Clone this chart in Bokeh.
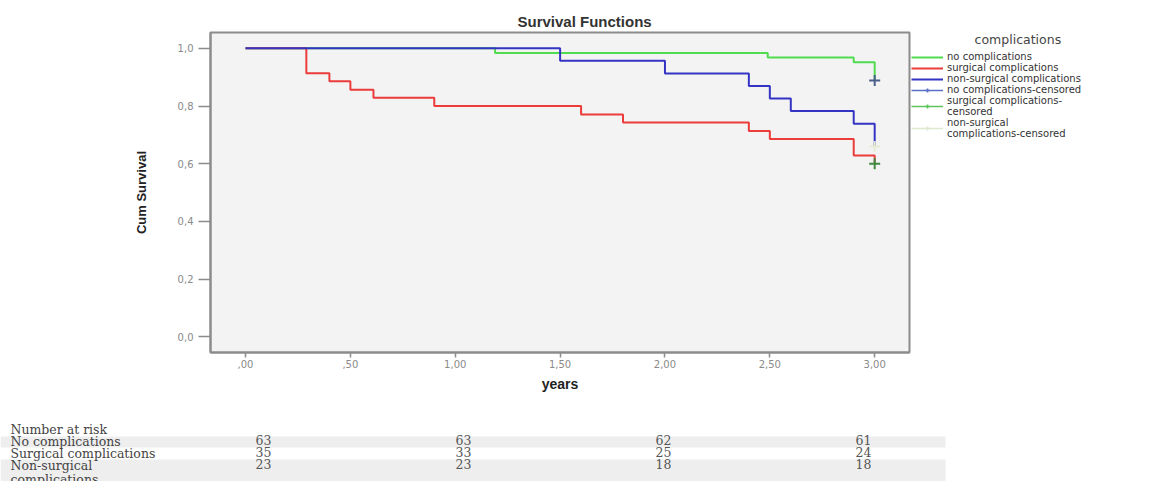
from bokeh.plotting import figure
from bokeh.models import Range1d, Legend, LegendItem, ColumnDataSource
from bokeh.layouts import row
from bokeh.embed import file_html
from bokeh.resources import INLINE
from bokeh.core.properties import value

# ---------------- data ----------------
legend_heading = "complications"
group_names = ["no complications", "surgical complications", "non-surgical complications"]
censor_names = ["no complications-censored", "surgical complications-\ncensored",
                "non-surgical\ncomplications-censored"]

no_comp_years = [0.0, 1.19, 2.49, 2.90, 3.0]
no_comp_surv = [1.0, 0.984, 0.968, 0.952, 0.889]

surg_years = [0.0, 0.29, 0.40, 0.50, 0.61, 0.90, 1.60, 1.80, 2.40, 2.50, 2.90, 3.0]
surg_surv = [1.0, 0.914, 0.886, 0.857, 0.829, 0.800, 0.771, 0.743, 0.714, 0.686, 0.629, 0.600]

nonsurg_years = [0.0, 1.50, 2.00, 2.40, 2.50, 2.60, 2.90, 3.0]
nonsurg_surv = [1.0, 0.957, 0.913, 0.870, 0.826, 0.783, 0.739, 0.660]

censor_years = [3.0, 3.0, 3.0]
censor_surv = [0.889, 0.600, 0.660]

x_ticks = [0.0, 0.5, 1.0, 1.5, 2.0, 2.5, 3.0]
x_tick_labels = [",00", ",50", "1,00", "1,50", "2,00", "2,50", "3,00"]
y_ticks = [0.0, 0.2, 0.4, 0.6, 0.8, 1.0]
y_tick_labels = ["0,0", "0,2", "0,4", "0,6", "0,8", "1,0"]

risk_years = [0, 1, 2, 3]
risk_no_comp = [63, 63, 62, 61]
risk_surg = [35, 33, 25, 24]
risk_nonsurg = [23, 23, 18, 18]
risk_header = "Number at risk"
risk_row_labels = ["No complications", "Surgical complications", "Non-surgical\ncomplications"]

# ---------------- styles ----------------
line_colors = ["#4fdc4f", "#ec3b3b", "#3434c4"]
censor_plot_colors = ["#4a5f8a", "#3f8a3f", "#e6ecd4"]
censor_legend_colors = ["#5a6fc8", "#5cc65c", "#dfe9d0"]

W = 1168
PW = 911
H = 418
p = figure(width=PW, height=H,
           x_range=Range1d(-0.167, 3.166), y_range=Range1d(-0.054, 1.055),
           output_backend="svg", toolbar_location=None,
           min_border_left=210, min_border_right=PW - 909,
           min_border_top=32, min_border_bottom=66)
p.background_fill_color = "#f3f3f3"
p.border_fill_color = "white"
p.outline_line_color = "#8c8c8c"
p.outline_line_width = 2
p.xgrid.visible = False
p.ygrid.visible = False

p.title.text = "Survival Functions"
p.title.text_font = "Liberation Sans"
p.title.text_font_size = "15px"
p.title.text_font_style = "bold"
p.title.text_color = "#333333"
p.title.align = "left"
p.title.offset = 307
p.title.standoff = 6

for ax in (p.xaxis[0], p.yaxis[0]):
    ax.axis_line_color = "#8c8c8c"
    ax.axis_line_width = 2
    ax.major_tick_line_color = "#8c8c8c"
    ax.major_tick_line_width = 1.5
    ax.major_tick_in = 0
    ax.minor_tick_line_color = None
    ax.major_label_text_font = "DejaVu Sans"
    ax.major_label_text_font_size = "10px"
    ax.major_label_text_color = "#8a8a8a"
    ax.axis_label_text_font = "Liberation Sans"
    ax.axis_label_text_font_style = "bold"
    ax.axis_label_text_color = "#222222"

p.xaxis.ticker = x_ticks
p.xaxis.major_label_overrides = dict(zip(x_ticks, x_tick_labels))
p.xaxis.major_tick_out = 5
p.xaxis.major_label_standoff = 2
p.xaxis.axis_label = "years"
p.xaxis.axis_label_text_font_size = "14px"
p.xaxis.axis_label_standoff = 5

p.yaxis.ticker = y_ticks
p.yaxis.major_label_overrides = dict(zip(y_ticks, y_tick_labels))
p.yaxis.major_tick_out = 12
p.yaxis.major_label_standoff = 5
p.yaxis.axis_label = "Cum Survival"
p.yaxis.axis_label_text_font_size = "13px"
p.yaxis.axis_label_standoff = 26

series = [(no_comp_years, no_comp_surv), (surg_years, surg_surv), (nonsurg_years, nonsurg_surv)]
for (xs, ys), col in zip(series, line_colors):
    p.step(x=xs, y=ys, mode="after", line_color=col, line_width=2)

for i in range(3):
    src = ColumnDataSource(dict(x=[censor_years[i]], y=[censor_surv[i]]))
    p.scatter(x="x", y="y", source=src, marker="cross", size=11,
              line_color=censor_plot_colors[i], line_width=2)

# ---------------- legend panel (right of the plot area) ----------------
# the same series are drawn here outside the visible range, only to feed the legend glyphs
lg = figure(width=W - PW, height=H, x_range=Range1d(-20, -19), y_range=Range1d(-20, -19),
            output_backend="svg", toolbar_location=None,
            x_axis_location=None, y_axis_location=None,
            min_border_left=0, min_border_right=0, min_border_top=32, min_border_bottom=66)
lg.outline_line_color = None
lg.xgrid.visible = False
lg.ygrid.visible = False
lg.background_fill_color = "white"
lg.border_fill_color = "white"

items = []
for (xs, ys), col, name in zip(series, line_colors, group_names):
    r = lg.step(x=xs, y=ys, mode="after", line_color=col, line_width=2)
    items.append(LegendItem(label=name, renderers=[r]))
for i in range(3):
    src = ColumnDataSource(dict(x=[censor_years[i]], y=[censor_surv[i]]))
    ll = lg.line(x="x", y="y", source=src, line_color=censor_legend_colors[i], line_width=1.5)
    lm = lg.scatter(x="x", y="y", source=src, marker="cross", size=8,
                    line_color=censor_legend_colors[i], line_width=1.5)
    items.append(LegendItem(label=censor_names[i], renderers=[ll, lm]))

legend = Legend(items=items, location="top_left", orientation="vertical",
                title="\u00a0" * 16 + legend_heading,
                title_text_font="DejaVu Sans", title_text_font_size="12.5px",
                title_text_color="#444444", title_text_font_style="normal",
                title_standoff=4,
                background_fill_alpha=0, border_line_color=None,
                label_text_font="DejaVu Sans", label_text_font_size="10px",
                label_text_color="#333333", label_height=10, glyph_height=10,
                glyph_width=32, label_standoff=4, spacing=0, padding=4, margin=0,
                label_text_line_height=0.85)
lg.add_layout(legend)

# ---------------- number at risk table ----------------
TH = 481 - H
t = figure(width=W, height=TH, x_range=Range1d(-1.315, 4.525), y_range=Range1d(4.417, -0.833),
           output_backend="svg", toolbar_location=None,
           x_axis_location=None, y_axis_location=None,
           min_border=0, min_border_left=0, min_border_right=0,
           min_border_top=0, min_border_bottom=0)
t.outline_line_color = None
t.xgrid.visible = False
t.ygrid.visible = False
t.background_fill_color = "white"
t.border_fill_color = "white"

xs0 = t.x_range.start
t.quad(left=[xs0, xs0], right=[3.41, 3.41], top=[0.667, 2.583], bottom=[1.583, 4.5],
       fill_color="#eeeeee", line_color=None)

label_x = (10 - 263) / 200.0
t.text(x=[label_x] * 4, y=[-0.5, 0.5, 1.5, 2.5],
       text=[risk_header] + risk_row_labels,
       text_font=value("DejaVu Serif"), text_font_size="12.5px", text_color="#444444",
       text_align="left", text_baseline="top", text_line_height=0.9)

for rw, vals in zip([1, 2, 3], [risk_no_comp, risk_surg, risk_nonsurg]):
    t.text(x=risk_years, y=[rw] * len(vals), text=[str(v) for v in vals],
           text_font=value("DejaVu Serif"), text_font_size="12.5px", text_color="#555555",
           text_align="center", text_baseline="middle")

open("out.html", "w").write(file_html([row(p, lg, spacing=0), t], INLINE))
